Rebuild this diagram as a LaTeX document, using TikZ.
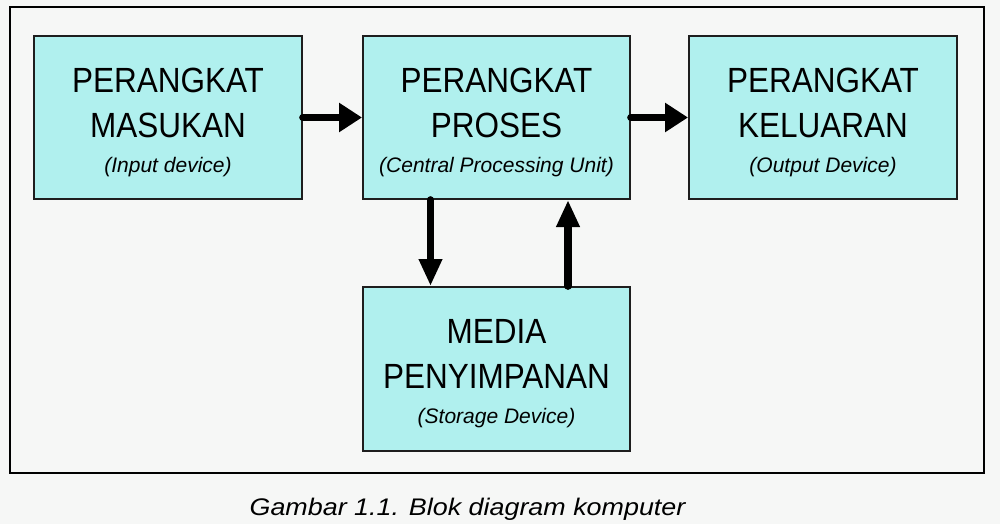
\documentclass[tikz,border=0pt]{standalone}
\usepackage{fontspec}
\usepackage{tikz}
\usetikzlibrary{calc,arrows.meta}
\newfontfamily\boxfont[FakeStretch=0.9]{Liberation Sans}
\newfontfamily\notefont{Liberation Sans}
\newfontfamily\capfont[FakeStretch=1.12]{Liberation Sans}
\definecolor{bgcol}{HTML}{F6F7F6}
\definecolor{boxcol}{HTML}{B0F0EE}
\definecolor{edgecol}{HTML}{1E1E1E}
\def\note#1{\\[-10pt]{\notefont\itshape\fontsize{21}{25}\selectfont #1}}
\tikzset{
	blok/.style={draw=edgecol, line width=2pt, fill=boxcol, minimum width=268pt, minimum height=163pt, inner sep=0pt, align=center, font=\boxfont\fontsize{35}{45}\selectfont},
	harrow/.style={line width=7.7pt, line cap=round, -{Triangle[length=23pt, width=28pt]}},
	varrow/.style={line width=7.7pt, line cap=round, -{Triangle[length=27pt, width=22pt]}}
}

\begin{document}
\begin{tikzpicture}[x=1pt, y=-1pt]
			%%%%% START %%%%%
			
			\fill[bgcol] (0, 0) rectangle (1000, 524);
			\useasboundingbox (0, 0) rectangle (1000, 524);
			\draw[line width=2.4pt] (10, 7) rectangle (984, 473);
			
			\node[blok] (masukan) at (168, 117.5) {\rule{0pt}{34pt}PERANGKAT\\MASUKAN\note{(Input device)}};
			\node[blok, minimum width=267pt] (proses) at (496.5, 117.5) {\rule{0pt}{34pt}PERANGKAT\\PROSES\note{(Central Processing Unit)}};
			\node[blok] (keluaran) at (823, 117.5) {\rule{0pt}{34pt}PERANGKAT\\KELUARAN\note{(Output Device)}};
			\node[blok, minimum width=267pt, minimum height=164pt] (media) at (496.5, 369) {\rule{0pt}{34pt}MEDIA\\PENYIMPANAN\note{(Storage Device)}};
			
			\draw[harrow] (masukan.east) -- (proses.west);
			\draw[harrow] (proses.east) -- (keluaran.west);
			\draw[varrow] ([xshift=-66pt]proses.south) -- ([xshift=-66pt]media.north);
			\draw[varrow] ([xshift=71.5pt]media.north) -- ([xshift=71.5pt]proses.south);
			
			\node[anchor=base, font=\capfont\itshape\fontsize{24}{28}\selectfont] (judul) at (467.5, 515) {Gambar 1.1. Blok diagram komputer};
			
			%%%%% END %%%%%
\end{tikzpicture}
\end{document}
